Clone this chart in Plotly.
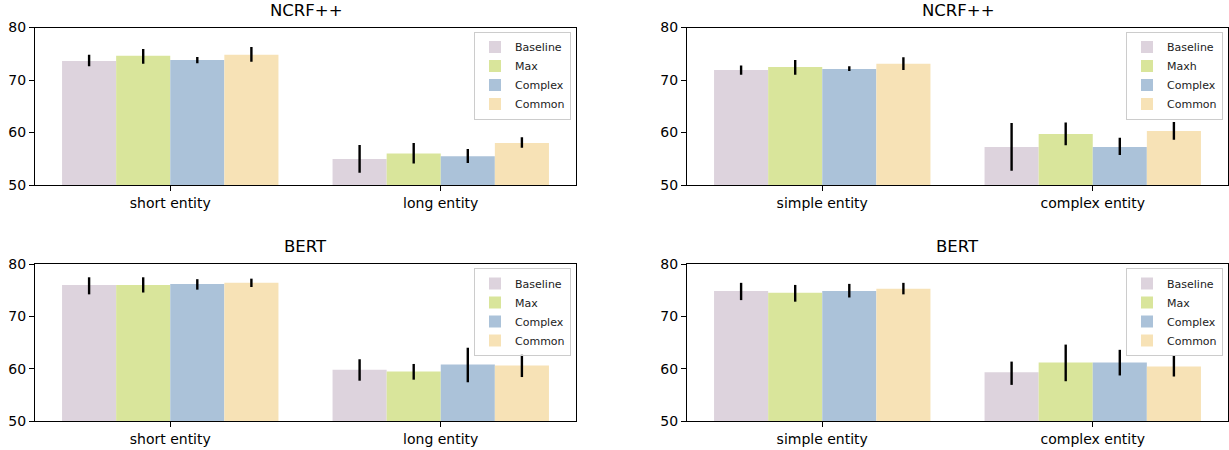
import plotly.graph_objects as go

series = ["Baseline", "Max", "Complex", "Common"]
series_tr = ["Baseline", "Maxh", "Complex", "Common"]
colors = ["#ddd3dd", "#d9e59b", "#abc2d9", "#f7e2b6"]

cats_len = ["short entity", "long entity"]
cats_cx = ["simple entity", "complex entity"]

# NCRF++ short/long: mean, upper, lower per series
ncrf_len_mean = [[73.6, 54.95], [74.6, 56.0], [73.8, 55.5], [74.8, 58.0]]
ncrf_len_hi = [[74.8, 57.6], [75.9, 58.0], [74.4, 56.85], [76.3, 59.1]]
ncrf_len_lo = [[72.6, 52.35], [73.1, 54.1], [73.2, 54.2], [73.5, 57.1]]

# NCRF++ simple/complex
ncrf_cx_mean = [[71.9, 57.25], [72.5, 59.7], [72.1, 57.25], [73.1, 60.3]]
ncrf_cx_hi = [[72.75, 61.8], [73.8, 61.9], [72.6, 59.0], [74.35, 62.0]]
ncrf_cx_lo = [[71.0, 52.7], [71.0, 57.55], [71.7, 55.7], [71.9, 58.6]]

# BERT short/long
bert_len_mean = [[76.0, 59.8], [76.0, 59.45], [76.2, 60.8], [76.4, 60.6]]
bert_len_hi = [[77.46, 61.8], [77.46, 60.9], [77.1, 64.0], [77.2, 62.8]]
bert_len_lo = [[74.2, 57.7], [74.55, 57.9], [75.1, 57.4], [75.6, 58.4]]

# BERT simple/complex
bert_cx_mean = [[74.86, 59.3], [74.5, 61.2], [74.86, 61.2], [75.25, 60.4]]
bert_cx_hi = [[76.4, 61.35], [76.0, 64.6], [76.2, 63.6], [76.4, 62.5]]
bert_cx_lo = [[73.1, 56.9], [72.8, 57.6], [73.6, 58.7], [74.2, 58.5]]

y_ticks = [50, 60, 70, 80]

W, H = 1229, 450
FONT = "DejaVu Sans"

panels = [
    # (title, cats, names, mean, hi, lo, x0px, x1px, y0px, y1px)
    ("NCRF++", cats_len, series, ncrf_len_mean, ncrf_len_hi, ncrf_len_lo, 35, 576, 27.5, 185),
    ("NCRF++", cats_cx, series_tr, ncrf_cx_mean, ncrf_cx_hi, ncrf_cx_lo, 687, 1228, 27.5, 185),
    ("BERT", cats_len, series, bert_len_mean, bert_len_hi, bert_len_lo, 35, 576, 264, 421),
    ("BERT", cats_cx, series, bert_cx_mean, bert_cx_hi, bert_cx_lo, 687, 1228, 264, 421),
]

fig = go.Figure()
annotations = []
for i, (title, cats, names, mean, hi, lo, x0, x1, y0, y1) in enumerate(panels):
    n = i + 1
    xa = "x" if n == 1 else f"x{n}"
    ya = "y" if n == 1 else f"y{n}"
    lg = "legend" if n == 1 else f"legend{n}"
    for s in range(4):
        fig.add_trace(go.Bar(
            x=cats, y=mean[s], name=names[s],
            marker=dict(color=colors[s], line=dict(width=0)),
            error_y=dict(type="data", symmetric=False,
                         array=[hi[s][k] - mean[s][k] for k in range(2)],
                         arrayminus=[mean[s][k] - lo[s][k] for k in range(2)],
                         color="#000000", thickness=2.4, width=0),
            xaxis=xa, yaxis=ya, legend=lg, offsetgroup=str(s),
        ))
    axx = dict(domain=[x0 / W, x1 / W], anchor=ya, showline=True, mirror=True,
               linecolor="black", linewidth=1, ticks="outside", ticklen=5,
               tickcolor="black", showgrid=False, zeroline=False, automargin=False,
               tickfont=dict(family=FONT, size=14, color="black"))
    axy = dict(domain=[1 - y1 / H, 1 - y0 / H], anchor=xa, range=[50, 80],
               tickvals=y_ticks, showline=True, mirror=True, linecolor="black",
               linewidth=1, ticks="outside", ticklen=5, tickcolor="black",
               showgrid=False, zeroline=False, automargin=False,
               tickfont=dict(family=FONT, size=14, color="black"))
    fig.update_layout(**{("xaxis" if n == 1 else f"xaxis{n}"): axx,
                         ("yaxis" if n == 1 else f"yaxis{n}"): axy})
    fig.update_layout(**{lg: dict(
        x=(x1 - 5) / W, y=1 - (y0 + 4) / H, xanchor="right", yanchor="top",
        xref="paper", yref="paper",
        bgcolor="rgba(255,255,255,0.8)", bordercolor="#cccccc", borderwidth=1,
        font=dict(family=FONT, size=11, color="#222222"),
        itemwidth=30, tracegroupgap=0,
    )})
    annotations.append(dict(text=title, x=(x0 + x1) / 2 / W, y=1 - (y0 - 6) / H,
                            xref="paper", yref="paper", xanchor="center",
                            yanchor="bottom", showarrow=False,
                            font=dict(family=FONT, size=16.5, color="black")))

fig.update_layout(
    width=W, height=H, barmode="group", bargap=0.2, bargroupgap=0,
    margin=dict(l=0, r=0, t=0, b=0, pad=0, autoexpand=False),
    plot_bgcolor="white", paper_bgcolor="white",
    annotations=annotations, showlegend=True,
    font=dict(family=FONT),
)

fig.write_html("out.html", config={"displayModeBar": False},
               post_script="document.body.style.margin='0';document.body.style.overflow='hidden';")
